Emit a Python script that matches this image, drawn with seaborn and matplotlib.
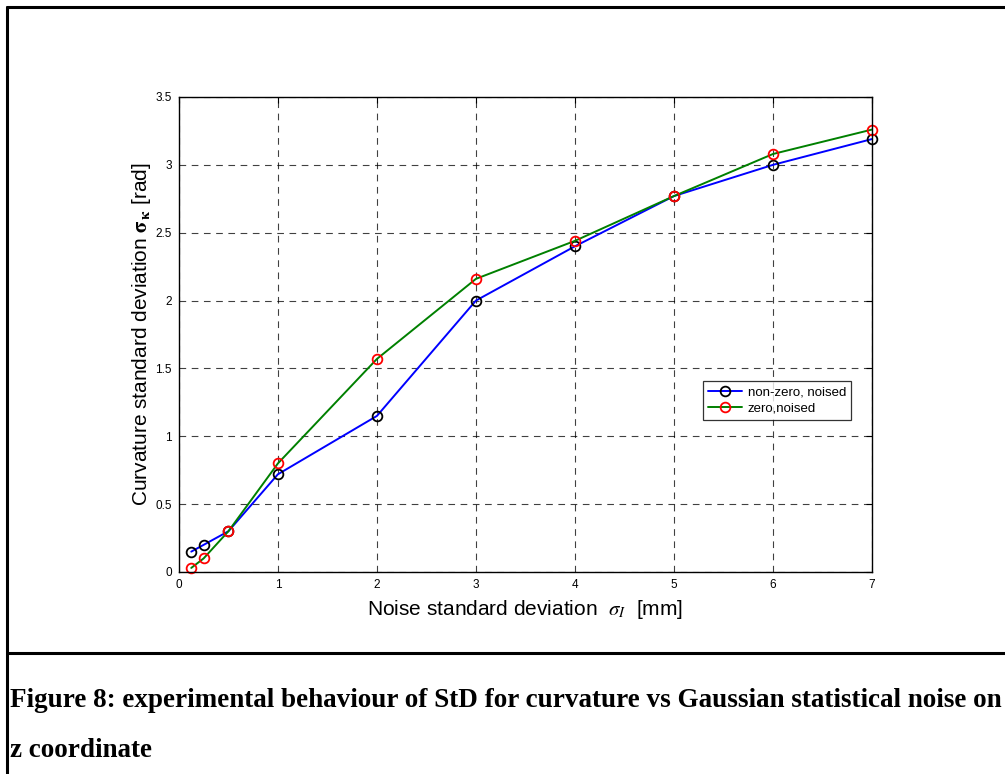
import matplotlib
matplotlib.use("Agg")
import matplotlib.pyplot as plt
import seaborn as sns
from matplotlib.lines import Line2D

# values
noise_std = [0.125, 0.25, 0.5, 1, 2, 3, 4, 5, 6, 7]
nonzero_noised = [0.15, 0.20, 0.30, 0.72, 1.15, 2.00, 2.40, 2.77, 3.00, 3.19]
zero_noised = [0.03, 0.10, 0.30, 0.80, 1.57, 2.16, 2.44, 2.77, 3.08, 3.26]

x_ticks = [0, 1, 2, 3, 4, 5, 6, 7]
y_ticks = [0, 0.5, 1, 1.5, 2, 2.5, 3, 3.5]
y_tick_labels = ["0", "0.5", "1", "1.5", "2", "2.5", "3", "3.5"]

caption_lines = ["Figure 8: experimental behaviour of StD for curvature vs Gaussian statistical noise on",
                 "z coordinate"]

sns.set_style("white")
plt.rcParams["font.family"] = ["Liberation Sans", "DejaVu Sans"]
plt.rcParams["mathtext.fontset"] = "stix"
plt.rcParams["text.color"] = "black"
plt.rcParams["axes.labelcolor"] = "black"

fig = plt.figure(figsize=(10.05, 7.74), dpi=100)
ax = fig.add_axes([0.178, 0.261, 0.6897, 0.6137])

sns.lineplot(x=noise_std, y=nonzero_noised, ax=ax, color="blue", lw=1.4,
             marker="o", markersize=7, markerfacecolor="none",
             markeredgecolor="black", markeredgewidth=1.3,
             label="non-zero, noised", clip_on=False)
sns.lineplot(x=noise_std, y=zero_noised, ax=ax, color="green", lw=1.4,
             marker="o", markersize=7, markerfacecolor="none",
             markeredgecolor="red", markeredgewidth=1.3,
             label="zero,noised", clip_on=False)

ax.set_xlim(0, 7)
ax.set_ylim(0, 3.5)
ax.set_xticks(x_ticks)
ax.set_xticklabels([str(t) for t in x_ticks])
ax.set_yticks(y_ticks)
ax.set_yticklabels(y_tick_labels)
ax.tick_params(direction="in", length=4, width=0.8, top=True, right=True,
               labelsize=8.5, pad=5, colors="black")
ax.grid(True, color="black", linestyle=(0, (6, 5)), linewidth=0.8, alpha=0.75)
for s in ax.spines.values():
    s.set_color("black")
    s.set_linewidth(1.0)

ax.set_xlabel(r"Noise standard deviation  $\sigma_I$  [mm]", fontsize=15, labelpad=5)
ax.set_ylabel(r"Curvature standard deviation $\mathbf{\sigma_\kappa}$ [rad]",
              fontsize=15, labelpad=2)

leg = ax.legend(loc="upper left", bbox_to_anchor=(0.756, 0.402), fontsize=9.5,
                frameon=True, fancybox=False, edgecolor="black", borderpad=0.4,
                handlelength=2.6, handletextpad=0.4, labelspacing=0.3,
                borderaxespad=0)
leg.get_frame().set_linewidth(0.9)

# page frame around the figure and caption
fig.add_artist(Line2D([7 / 1005, 1], [1 - 7 / 774, 1 - 7 / 774], color="black", lw=2.2))
fig.add_artist(Line2D([7 / 1005, 7 / 1005], [0, 1 - 7 / 774], color="black", lw=2.2))
fig.add_artist(Line2D([7 / 1005, 1], [1 - 653 / 774, 1 - 653 / 774], color="black", lw=2.2))

for line, base in zip(caption_lines, [707, 757]):
    fig.text(10 / 1005, 1 - base / 774, line, fontsize=19.5, fontweight="bold",
             family=["Liberation Serif", "DejaVu Serif"], va="baseline", color="black")

fig.savefig("out.png", dpi=100, facecolor="white")
